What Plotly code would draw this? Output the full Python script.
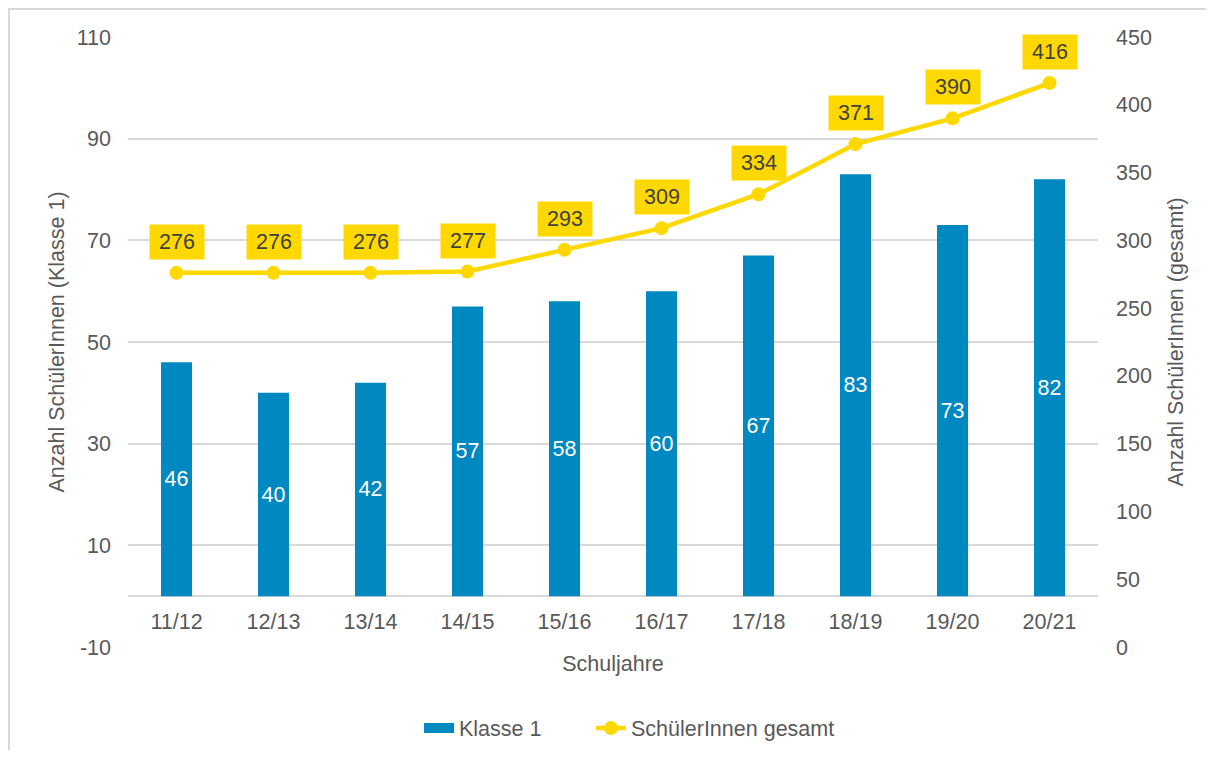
import plotly.graph_objects as go

categories = ["11/12", "12/13", "13/14", "14/15", "15/16", "16/17", "17/18", "18/19", "19/20", "20/21"]
klasse1 = [46, 40, 42, 57, 58, 60, 67, 83, 73, 82]
gesamt = [276, 276, 276, 277, 293, 309, 334, 371, 390, 416]
left_ticks = [-10, 10, 30, 50, 70, 90, 110]
left_ticktext = ["-10", "10", "30", "50", "70", "90", "110"]
right_ticks = [0, 50, 100, 150, 200, 250, 300, 350, 400, 450]

BLUE = "#0088C0"
YELLOW = "#FFD800"
GRAY = "#595959"
GRID = "#D9D9D9"
FONT = "Liberation Sans, Arial, sans-serif"
FS = 21.5

# page has an 8px body margin; size the figure so it fits in the window
W, H = 1198, 742
ML, MR, MT, MB = 120, 108, 29, 103

pw = W - ML - MR
ph = H - MT - MB

fig = go.Figure()
fig.add_trace(go.Bar(
    x=categories, y=klasse1, name="Klasse 1",
    marker=dict(color=BLUE, line=dict(width=0)),
    text=[str(v) for v in klasse1], textposition="inside",
    insidetextanchor="middle", textangle=0,
    textfont=dict(color="white", size=FS, family=FONT),
    yaxis="y", showlegend=False, legendgroup="k1",
))
# legend entry for the bars (wide rectangle symbol)
fig.add_trace(go.Scatter(
    x=[None], y=[None], name="Klasse 1", mode="lines",
    line=dict(color=BLUE, width=10), legendgroup="k1", showlegend=True,
    legend="legend",
))
fig.add_trace(go.Scatter(
    x=categories, y=gesamt, name="SchülerInnen gesamt",
    mode="lines+markers",
    line=dict(color=YELLOW, width=4.5),
    marker=dict(color=YELLOW, size=14),
    yaxis="y2", legend="legend2",
))

annotations = []
for c, v in zip(categories, gesamt):
    annotations.append(dict(
        x=c, y=v, xref="x", yref="y2", text=str(v), showarrow=False,
        yshift=31, bgcolor=YELLOW, width=52, height=32,
        font=dict(size=FS, color="#404040", family=FONT),
    ))

shapes = [dict(
    type="rect", xref="paper", yref="paper",
    x0=(1 - ML) / pw, x1=(W + 40 - ML) / pw,
    y0=-(MB + 40) / ph, y1=(ph + MT - 1) / ph,
    line=dict(color=GRID, width=2), layer="below",
)]

legend_common = dict(orientation="h", xanchor="left", y=-0.133, yanchor="middle",
                     font=dict(size=FS, color=GRAY), bgcolor="rgba(0,0,0,0)")

fig.update_layout(
    width=W, height=H,
    margin=dict(l=ML, r=MR, t=MT, b=MB, pad=0, autoexpand=False),
    paper_bgcolor="white", plot_bgcolor="white",
    font=dict(family=FONT, size=FS, color=GRAY),
    bargap=0.68,
    showlegend=True,
    legend=dict(x=(411 - ML) / pw, **legend_common),
    legend2=dict(x=(583 - ML) / pw, **legend_common),
    xaxis=dict(
        range=[-0.5, len(categories) - 0.5],
        showgrid=False, showline=False, ticks="", automargin=False,
        tickfont=dict(size=FS, color=GRAY),
        ticklabelstandoff=-41,
        title=dict(text="Schuljahre", font=dict(size=FS, color=GRAY), standoff=23),
    ),
    yaxis=dict(
        range=[-10, 110], tickvals=left_ticks, ticktext=left_ticktext,
        showgrid=True, gridcolor=GRID, gridwidth=1.5,
        zeroline=True, zerolinecolor=GRID, zerolinewidth=2,
        showline=False, ticks="", ticklabelstandoff=16, automargin=False,
        tickfont=dict(size=FS, color=GRAY),
        title=dict(text="Anzahl SchülerInnen (Klasse 1)", font=dict(size=FS, color=GRAY), standoff=6),
    ),
    yaxis2=dict(
        range=[0, 450], tickvals=right_ticks, overlaying="y", side="right",
        showgrid=False, zeroline=False, showline=False, ticks="",
        ticklabelstandoff=17, automargin=False,
        tickfont=dict(size=FS, color=GRAY),
        title=dict(text="Anzahl SchülerInnen (gesamt)", font=dict(size=FS, color=GRAY), standoff=17),
    ),
    annotations=annotations,
    shapes=shapes,
)

fig.write_html("out.html")
